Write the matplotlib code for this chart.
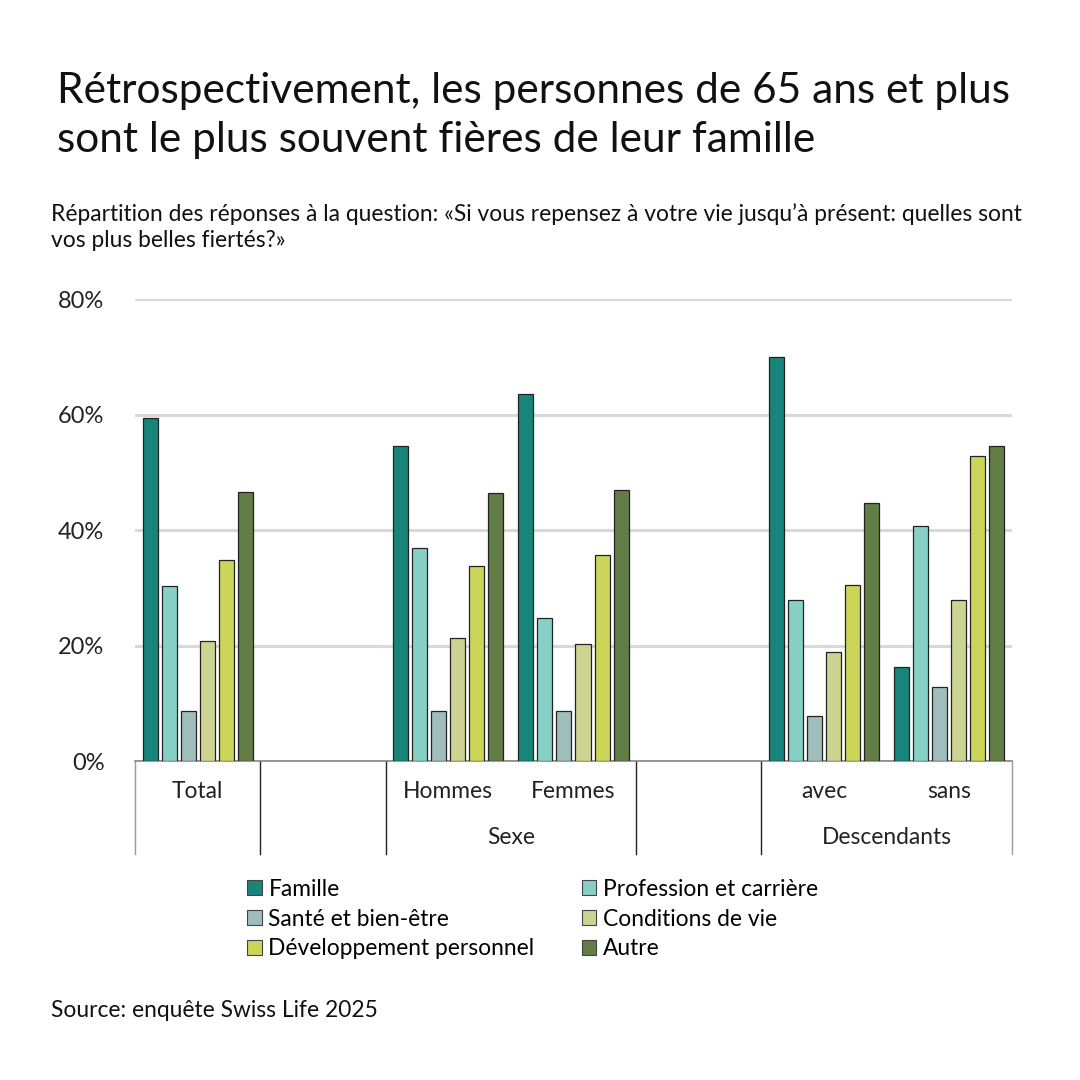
import matplotlib
matplotlib.use("Agg")
import matplotlib.pyplot as plt
from matplotlib.patches import Patch
import numpy as np

plt.rcParams["font.family"] = ["Lato", "DejaVu Sans"]

groups = ["Total", "", "Hommes", "Femmes", "", "avec", "sans"]
series = ["Famille", "Profession et carrière", "Santé et bien-être",
          "Conditions de vie", "Développement personnel", "Autre"]
colors = ["#17857a", "#86d0c6", "#9fbdbb", "#cdd491", "#cbd558", "#627e46"]

famille = [59.4, np.nan, 54.5, 63.5, np.nan, 70.0, 16.3]
profession = [30.3, np.nan, 36.9, 24.8, np.nan, 27.9, 40.7]
sante = [8.7, np.nan, 8.7, 8.8, np.nan, 7.8, 12.8]
conditions = [20.8, np.nan, 21.3, 20.3, np.nan, 19.0, 27.9]
developpement = [34.8, np.nan, 33.8, 35.7, np.nan, 30.5, 52.8]
autre = [46.6, np.nan, 46.4, 46.9, np.nan, 44.7, 54.5]
values = [famille, profession, sante, conditions, developpement, autre]

outer_labels = [("Sexe", 2, 3), ("Descendants", 5, 6)]

FS = 16.4

fig = plt.figure(figsize=(10.8, 10.8), dpi=100)
ax = fig.add_axes([0.125, 0.295, 0.812, 0.428])

x = np.arange(len(groups))
width = 0.12
pitch = 0.152
for i, (name, vals, c) in enumerate(zip(series, values, colors)):
    ax.bar(x + (i - 2.5) * pitch, vals, width, color=c, edgecolor="#222222",
           linewidth=0.9, label=name, zorder=3)

ax.set_xlim(-0.5, len(groups) - 0.5)
ax.set_ylim(0, 80)
ax.set_yticks([0, 20, 40, 60, 80])
ax.set_yticklabels([f"{v}%" for v in [0, 20, 40, 60, 80]], fontsize=17, color="#222222")
ax.yaxis.grid(True, color="#d9d9d9", linewidth=2.2, zorder=0)
ax.tick_params(axis="y", length=0, pad=22)
ax.set_xticks([])
for s in ["top", "right", "left"]:
    ax.spines[s].set_visible(False)
ax.spines["bottom"].set_color("#888888")
ax.spines["bottom"].set_linewidth(1.2)

# category labels and separators below axis
trans = ax.get_xaxis_transform()
for xi, g in zip(x, groups):
    if g:
        ax.text(xi, -0.066, g, transform=trans, ha="center", va="center",
                fontsize=FS, color="#222222")
for b in [-0.5, 0.5, 1.5, 3.5, 4.5, 6.5]:
    col = "#222222" if b not in (-0.5, 6.5) else "#999999"
    ax.plot([b, b], [0, -0.2], transform=trans, color=col, linewidth=1.0,
            clip_on=False)
for name, a, b in outer_labels:
    ax.text((a + b) / 2, -0.164, name, transform=trans, ha="center", va="center",
            fontsize=FS, color="#222222")

fig.text(0.053, 0.893, "Rétrospectivement, les personnes de 65 ans et plus\n"
         "sont le plus souvent fières de leur famille",
         fontsize=30.5, ha="left", va="center", linespacing=1.33, color="#111111")
fig.text(0.047, 0.790, "Répartition des réponses à la question: «Si vous repensez à votre vie "
         "jusqu’à présent: quelles sont\nvos plus belles fiertés?»",
         fontsize=FS, ha="left", va="center", linespacing=1.3, color="#111111")
fig.text(0.047, 0.064, "Source: enquête Swiss Life 2025", fontsize=FS,
         ha="left", va="center", color="#111111")

handles = [Patch(facecolor=c, edgecolor="#444444", linewidth=0.8, label=n)
           for n, c in zip(series, colors)]
# reorder for row-wise 2-column layout
order = [0, 2, 4, 1, 3, 5]
fig.legend([handles[i] for i in order], [series[i] for i in order],
           loc="upper left", bbox_to_anchor=(0.218, 0.197), ncol=2, frameon=False,
           fontsize=FS, handlelength=0.65, handleheight=0.65, handletextpad=0.3,
           columnspacing=2.06, labelspacing=0.39, borderpad=0)

fig.savefig("out.png", dpi=100)
